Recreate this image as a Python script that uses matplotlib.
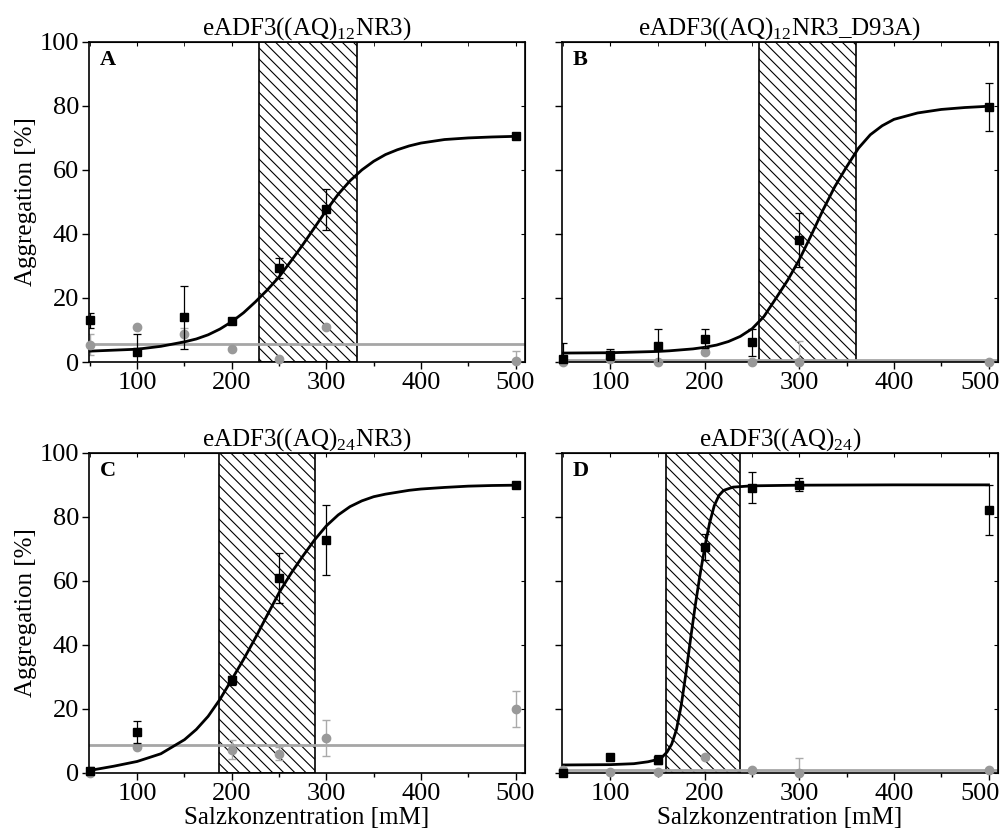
import matplotlib
matplotlib.use('Agg')
import matplotlib.pyplot as plt
from matplotlib.transforms import ScaledTranslation

plt.rcParams['font.family'] = ['Liberation Serif', 'DejaVu Serif']
plt.rcParams['mathtext.fontset'] = 'custom'
plt.rcParams['mathtext.rm'] = 'Liberation Serif'
plt.rcParams['hatch.linewidth'] = 0.8

# salt concentrations [mM]
salt = [50, 100, 150, 200, 250, 300, 500]
salt_c = [50, 100, 200, 250, 300, 500]
fit_x = [50, 75, 100, 125, 150, 162.5, 175, 187.5, 200, 212.5, 225, 237.5,
         250, 262.5, 275, 287.5, 300, 312.5, 325, 337.5, 350, 362.5, 375,
         387.5, 400, 425, 450, 475, 500]
fit_x_d = [50, 100, 125, 140, 150, 155, 160, 165, 170, 175, 180, 185, 190,
           195, 200, 205, 210, 215, 220, 230, 250, 300, 400, 500]

titles = [r'eADF3((AQ)$_{\mathrm{12}}$NR3)',
          r'eADF3((AQ)$_{\mathrm{12}}$NR3_D93A)',
          r'eADF3((AQ)$_{\mathrm{24}}$NR3)',
          r'eADF3((AQ)$_{\mathrm{24}}$)']
letters = ['A', 'B', 'C', 'D']

# panel A
a_black = [13.0, 3.2, 14.0, 12.8, 29.4, 47.7, 70.7]
a_black_err = [2.3, 5.5, 9.8, 0.5, 3.0, 6.5, 0.5]
a_gray = [5.4, 11.0, 8.7, 4.2, 1.0, 11.0, 0.3]
a_gray_err = [3.3, 0.0, 2.0, 0.0, 0.0, 0.5, 3.0]
a_fit = [3.4, 3.7, 4.0, 4.9, 6.3, 7.2, 8.5, 10.3, 12.6, 15.4, 18.8, 22.5,
         26.6, 31.5, 36.6, 42.0, 47.4, 52.4, 56.6, 60.0, 62.7, 64.8, 66.3,
         67.5, 68.4, 69.5, 70.0, 70.3, 70.5]
a_gray_level = 5.7
a_range = (229, 332)

# panel B
b_black = [1.0, 2.3, 5.0, 7.3, 6.1, 38.2, 79.7]
b_black_err = [5.0, 1.7, 5.4, 3.0, 4.2, 8.5, 7.6]
b_gray = [0.0, 1.0, 0.0, 3.1, 0.0, 0.0, 0.0]
b_gray_err = [0.0, 0.0, 0.0, 0.5, 0.0, 6.6, 0.0]
b_fit = [2.8, 2.85, 2.9, 3.1, 3.3, 3.5, 3.8, 4.1, 4.6, 5.3, 6.4, 8.0,
         10.4, 14.2, 19.8, 25.5, 32.0, 39.6, 47.5, 54.8, 61.0, 66.8, 71.0,
         73.8, 75.8, 77.8, 78.9, 79.5, 79.9]
b_gray_level = 0.5
b_range = (257, 360)

# panel C
c_black = [0.5, 12.8, 28.9, 60.8, 72.8, 90.0]
c_black_err = [1.5, 3.5, 1.5, 7.8, 11.0, 0.5]
c_gray = [0.0, 8.0, 7.3, 6.0, 10.8, 20.0]
c_gray_err = [0.0, 0.0, 3.0, 2.0, 5.6, 5.7]
c_fit = [0.8, 2.1, 3.6, 6.0, 10.4, 13.6, 17.7, 23.0, 29.2, 35.5, 42.2, 49.3,
         56.3, 62.3, 67.7, 72.8, 77.2, 80.6, 83.2, 85.0, 86.3, 87.1, 87.7,
         88.3, 88.7, 89.2, 89.6, 89.8, 89.9]
c_gray_level = 8.6
c_range = (186, 288)

# panel D
d_black = [0.0, 4.9, 4.2, 70.5, 89.1, 90.1, 82.2]
d_black_err = [0.0, 0.0, 1.5, 4.0, 4.8, 2.0, 7.8]
d_gray = [1.0, 0.2, 0.2, 4.9, 1.0, 0.0, 1.0]
d_gray_err = [0.0, 0.0, 0.0, 0.0, 0.0, 4.7, 0.0]
d_fit = [2.5, 2.6, 2.9, 3.5, 4.2, 5.0, 6.5, 9.0, 13.5, 21.0, 31.0, 42.0,
         52.5, 62.0, 70.5, 78.0, 83.5, 86.7, 88.3, 89.3, 89.7, 89.9, 90.0, 90.0]
d_gray_level = 1.0
d_range = (159, 237)

GRAY = '#999999'


def draw_panel(ax, title, letter, xb, yb, eb, xg, yg, eg, fx, fy, level, rng,
               show_y, show_xlabel, shift_last=False):
    ax.axvspan(rng[0], rng[1], facecolor='white', edgecolor='black',
               hatch='\\\\\\', lw=1.2, zorder=1)
    ax.axhline(level, color='#a6a6a6', lw=2, zorder=2)
    ax.plot(fx, fy, color='black', lw=2, zorder=3)
    ax.errorbar(xg, yg, yerr=eg, fmt='none', ecolor='#aaaaaa', elinewidth=1,
                capsize=3, capthick=1, zorder=2)
    ax.plot(xg, yg, 'o', color=GRAY, ms=6, clip_on=False, zorder=4)
    ax.errorbar(xb, yb, yerr=eb, fmt='none', ecolor='black', elinewidth=0.9,
                capsize=3, capthick=0.9, zorder=4)
    ax.plot(xb, yb, 's', color='black', ms=5.5, clip_on=False, zorder=5)

    ax.set_xlim(49, 510)
    ax.set_ylim(0, 100)
    ax.set_xticks([100, 200, 300, 400, 500])
    ax.set_xticks([50, 150, 250, 350, 450], minor=True)
    ax.set_yticks([0, 20, 40, 60, 80, 100])
    ax.tick_params(axis='both', which='major', direction='out', length=5,
                   width=1, labelsize=19, pad=2)
    ax.tick_params(axis='x', which='minor', direction='out', length=3, width=1)
    ax.tick_params(axis='y', labelleft=show_y)
    for sp in ax.spines.values():
        sp.set_linewidth(1.2)

    if shift_last:
        # the reference pulls the last label a bit left to stay inside
        lab = ax.get_xticklabels()[-1]
        lab.set_transform(lab.get_transform() +
                          ScaledTranslation(-8 / 100, 0, ax.figure.dpi_scale_trans))

    # inward ticks on top and right
    top = ax.secondary_xaxis('top')
    top.set_xticks([100, 200, 300, 400, 500])
    top.set_xticks([50, 150, 250, 350, 450], minor=True)
    top.tick_params(which='both', direction='in', length=3, labeltop=False)
    right = ax.secondary_yaxis('right')
    right.set_yticks([0, 20, 40, 60, 80, 100])
    right.tick_params(direction='in', length=3, labelright=False)

    ax.set_title(title, fontsize=18, pad=3)
    ax.text(0.025, 0.975, letter, transform=ax.transAxes, fontsize=16,
            fontweight='bold', va='top', ha='left')
    if show_y:
        ax.set_ylabel('Aggregation [%]', fontsize=18, labelpad=2)
    if show_xlabel:
        ax.set_xlabel('Salzkonzentration [mM]', fontsize=18, labelpad=2)


fig = plt.figure(figsize=(10.03, 8.38), dpi=100)
ax_a = fig.add_axes([0.0887, 0.568, 0.4347, 0.382])
ax_b = fig.add_axes([0.5603, 0.568, 0.4347, 0.382])
ax_c = fig.add_axes([0.0887, 0.0776, 0.4347, 0.382])
ax_d = fig.add_axes([0.5603, 0.0776, 0.4347, 0.382])

draw_panel(ax_a, titles[0], letters[0], salt, a_black, a_black_err, salt,
           a_gray, a_gray_err, fit_x, a_fit, a_gray_level, a_range, True, False)
draw_panel(ax_b, titles[1], letters[1], salt, b_black, b_black_err, salt,
           b_gray, b_gray_err, fit_x, b_fit, b_gray_level, b_range, False, False,
           shift_last=True)
draw_panel(ax_c, titles[2], letters[2], salt_c, c_black, c_black_err, salt_c,
           c_gray, c_gray_err, fit_x, c_fit, c_gray_level, c_range, True, True)
draw_panel(ax_d, titles[3], letters[3], salt, d_black, d_black_err, salt,
           d_gray, d_gray_err, fit_x_d, d_fit, d_gray_level, d_range, False, True,
           shift_last=True)

plt.savefig('out.png', dpi=100)
